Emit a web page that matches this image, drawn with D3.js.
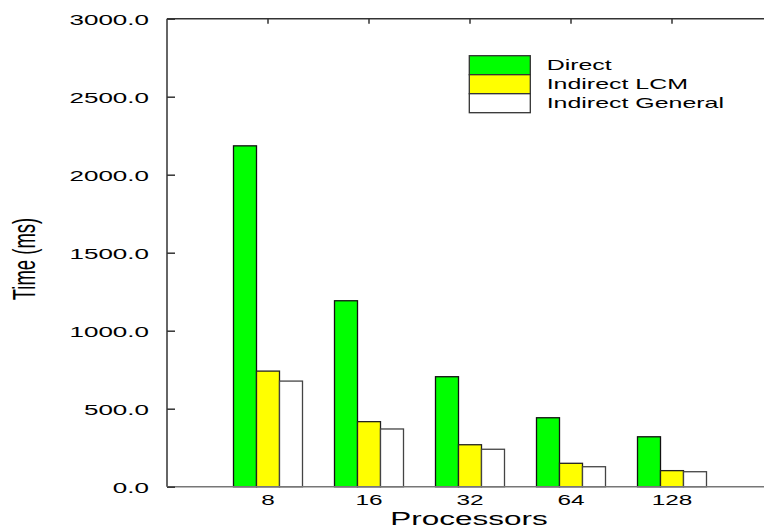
<!DOCTYPE html>
<html>
<head>
<meta charset="utf-8">
<script src="https://cdn.jsdelivr.net/npm/d3@7"></script>
<style>
  html, body { margin: 0; padding: 0; background: #fff; }
  svg { display: block; }
  text { font-family: "Liberation Sans", Arial, sans-serif; fill: #000; }
</style>
</head>
<body>
<svg id="chart" width="764" height="527"></svg>
<script>
// Execution time per processor count for the three redistribution schemes
const processors = ["8", "16", "32", "64", "128"];
const seriesNames = ["Direct", "Indirect LCM", "Indirect General"];
const direct = [2185, 1192, 705, 442, 320];
const indirectLCM = [741, 417, 269, 150, 103];
const indirectGeneral = [677, 370, 240, 128, 96];
const yTicks = [0, 500, 1000, 1500, 2000, 2500, 3000];

const seriesValues = [direct, indirectLCM, indirectGeneral];
const colors = ["#00ff00", "#ffff00", "#ffffff"];
const strokes = ["#111", "#222", "#444"];

// glyphs are drawn wide, as in the printed figure
const SX = 1.7;

const svg = d3.select("#chart");

const plotLeft = 167, plotRight = 773, plotTop = 18.7, plotBottom = 486.7;
const x = d3.scaleLinear().domain([0, processors.length + 1]).range([plotLeft, plotRight]);
const y = d3.scaleLinear().domain([0, 3000]).range([plotBottom, plotTop]);
const sub = d3.scaleBand().domain(seriesNames).range([-34.5, 34.5]);

// bottom ticks sit behind the bars
svg.append("g")
  .selectAll("line")
  .data(processors)
  .join("line")
  .attr("x1", (d, i) => x(i + 1)).attr("x2", (d, i) => x(i + 1))
  .attr("y1", plotBottom).attr("y2", plotBottom - 5)
  .attr("stroke", "#555").attr("stroke-width", 1.5);

// bars
const groups = svg.append("g")
  .selectAll("g")
  .data(processors)
  .join("g")
  .attr("transform", (d, i) => `translate(${x(i + 1)},0)`);

groups.selectAll("rect")
  .data((d, i) => seriesNames.map((s, k) => ({ s, k, v: seriesValues[k][i] })))
  .join("rect")
  .attr("x", d => sub(d.s))
  .attr("width", sub.bandwidth())
  .attr("y", d => y(d.v))
  .attr("height", d => y(0) - y(d.v))
  .attr("fill", d => colors[d.k])
  .attr("stroke", d => strokes[d.k])
  .attr("stroke-width", 1.3);

// frame: left, bottom and top axis lines
svg.append("line").attr("x1", plotLeft).attr("x2", plotLeft).attr("y1", plotTop).attr("y2", plotBottom)
  .attr("stroke", "#333").attr("stroke-width", 1.5);
svg.append("line").attr("x1", plotLeft).attr("x2", 764).attr("y1", plotBottom).attr("y2", plotBottom)
  .attr("stroke", "#777").attr("stroke-width", 1.5);
svg.append("line").attr("x1", plotLeft).attr("x2", 764).attr("y1", plotTop).attr("y2", plotTop)
  .attr("stroke", "#333").attr("stroke-width", 1.5);

// top ticks at each processor count
svg.append("g")
  .selectAll("line")
  .data(processors)
  .join("line")
  .attr("x1", (d, i) => x(i + 1)).attr("x2", (d, i) => x(i + 1))
  .attr("y1", plotTop).attr("y2", plotTop + 5)
  .attr("stroke", "#333").attr("stroke-width", 1.5);

// y axis
const yAxis = svg.append("g")
  .attr("transform", `translate(${plotLeft},0)`)
  .call(d3.axisLeft(y).tickValues(yTicks).tickSize(-8).tickPadding(18)
    .tickFormat(d => d.toFixed(1)));
yAxis.select(".domain").remove();
yAxis.selectAll(".tick line").attr("stroke", "#333").attr("stroke-width", 1.5);
yAxis.selectAll(".tick text")
  .attr("x", null).attr("dy", "0.36em")
  .attr("transform", `translate(-18,0) scale(${SX},1)`)
  .style("font-size", "15.3px")
  .attr("font-family", null)
  .attr("fill", "#000");

// processor labels
svg.append("g")
  .selectAll("text")
  .data(processors)
  .join("text")
  .attr("text-anchor", "middle")
  .attr("transform", (d, i) => `translate(${x(i + 1)},505) scale(1.74,1)`)
  .style("font-size", "14px")
  .text(d => d);

// axis titles
svg.append("text")
  .attr("text-anchor", "middle")
  .attr("transform", `translate(469,525) scale(${SX},1)`)
  .style("font-size", "18.5px")
  .text("Processors");

svg.append("text")
  .attr("text-anchor", "middle")
  .attr("transform", `translate(35,259) scale(${SX},1) rotate(-90)`)
  .style("font-size", "18.5px")
  .text("Time (ms)");

// legend
const legend = svg.append("g").attr("transform", "translate(469.3,55.7)");
const row = d3.scaleBand().domain(seriesNames).range([0, 57]);
legend.selectAll("rect")
  .data(seriesNames)
  .join("rect")
  .attr("x", 0).attr("y", d => row(d))
  .attr("width", 61).attr("height", row.bandwidth())
  .attr("fill", (d, k) => colors[k])
  .attr("stroke", "#333").attr("stroke-width", 1.3);
legend.selectAll("text")
  .data(seriesNames)
  .join("text")
  .attr("transform", d => `translate(77.4,${row(d) + 13.8}) scale(1.78,1)`)
  .style("font-size", "14px")
  .text(d => d);
</script>
</body>
</html>
